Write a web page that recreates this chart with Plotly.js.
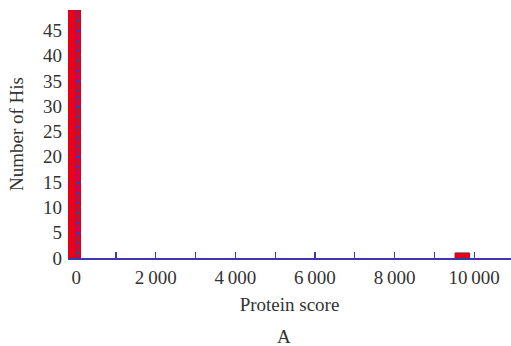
<!DOCTYPE html>
<html><head><meta charset="utf-8">
<script src="https://cdn.plot.ly/plotly-3.0.1.min.js"></script>
<style>html,body{margin:0;padding:0;background:#fff}#chart{width:511px;height:346px}</style>
</head><body><div id="chart"></div>
<script>
const binCenters = [-50, 9700];
const counts = [49, 1];
const xTickVals = [0, 1000, 2000, 3000, 4000, 5000, 6000, 7000, 8000, 9000, 10000];
const xTickText = ['0', '', '2\u2009000', '', '4\u2009000', '', '6\u2009000', '', '8\u2009000', '', '10\u2009000'];
const yTickVals = [0, 5, 10, 15, 20, 25, 30, 35, 40, 45];
const xTitle = 'Protein score';
const yTitle = 'Number of His';
const panelLabel = 'A';

const blue = '#3a3aa8';
const font = {family: 'Liberation Serif, Times New Roman, serif', size: 19, color: '#333'};
const xr = [-205, 10925];
const axisFrac = (0 - xr[0]) / (xr[1] - xr[0]);

const trace = {
  type: 'bar', x: binCenters, y: counts, width: [320, 360],
  marker: {color: '#e8001c', line: {color: '#c4001a', width: 1}},
  hoverinfo: 'skip'
};
const trace2 = {type: 'scatter', x: [null], y: [null], yaxis: 'y2', showlegend: false};

Plotly.newPlot('chart', [trace, trace2], {
  width: 511, height: 346,
  margin: {l: 68, r: 0, t: 10, b: 88},
  paper_bgcolor: '#fff', plot_bgcolor: '#fff',
  showlegend: false, bargap: 0,
  font: font,
  xaxis: {
    range: xr, tickvals: xTickVals, ticktext: xTickText,
    ticks: 'inside', ticklen: 6, tickcolor: blue, tickwidth: 1.2,
    showline: true, linecolor: blue, linewidth: 1.5,
    showgrid: false, zeroline: false, tickfont: font, ticklabelstandoff: 2,
    title: {text: xTitle, font: font, standoff: 10}
  },
  yaxis: {
    range: [0, 49], tickvals: yTickVals, ticks: '', showline: false,
    showgrid: false, zeroline: false, tickfont: font, ticklabelstandoff: 5,
    title: {text: yTitle, font: font, standoff: 14}
  },
  yaxis2: {
    overlaying: 'y', anchor: 'free', position: axisFrac, side: 'left',
    range: [0, 49], tickvals: yTickVals, showticklabels: false,
    ticks: 'inside', ticklen: 4, tickcolor: blue, tickwidth: 1.2,
    minor: {dtick: 1, ticks: 'inside', ticklen: 2, tickcolor: blue, tickwidth: 1},
    showline: true, linecolor: blue, linewidth: 1.2,
    showgrid: false, zeroline: false
  },
  annotations: [{
    text: panelLabel, xref: 'paper', yref: 'paper', x: 0.488, y: -0.318,
    yanchor: 'middle', xanchor: 'center', showarrow: false, font: font
  }]
}, {displayModeBar: false, staticPlot: true});
</script></body></html>
